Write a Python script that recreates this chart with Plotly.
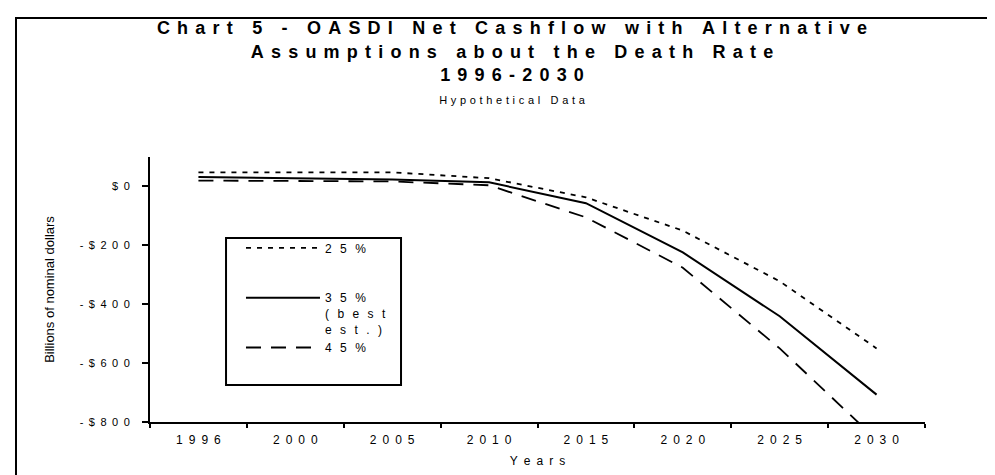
import plotly.graph_objects as go

# OASDI net cashflow, billions of nominal dollars
years = ["1996", "2000", "2005", "2010", "2015", "2020", "2025", "2030"]
rate_25 = [48, 48, 48, 28, -37, -150, -322, -550]
rate_35 = [32, 28, 24, 14, -57, -224, -441, -707]
rate_45 = [20, 18, 17, 4, -105, -276, -550, -860]

y_ticks = [0, -200, -400, -600, -800]
y_labels = ["$0", "-$200", "-$400", "-$600", "-$800"]
legend_names = ["25%", "35%<br>(best<br>est.)", "45%"]

title_lines = ["Chart 5 - OASDI Net Cashflow with Alternative",
               "Assumptions about the Death Rate",
               "1996-2030"]
subtitle = "Hypothetical Data"

FONT = "Liberation Sans, Arial, sans-serif"
EN = "\u2002"
THIN2 = "\u2009\u2009"


def spaced(text, sep=EN):
    # the original chart uses wide letter spacing
    return "<br>".join(sep.join(line) for line in text.split("<br>"))


title_text = "<br>".join("<b>" + spaced(t, THIN2) + "</b>" for t in title_lines)
title_text += "<br><span style='font-size:11px'>" + spaced(subtitle, "\u2004") + "</span>"

fig = go.Figure()
styles = [dict(dash="5px,6px", width=1.8),
          dict(dash="solid", width=2),
          dict(dash="15px,10px", width=1.8)]
pad_lines = [2, 0, 1]
for vals, name, st, pad in zip([rate_25, rate_35, rate_45], legend_names, styles, pad_lines):
    fig.add_trace(go.Scatter(
        x=years, y=vals, mode="lines",
        name=spaced(name, EN + "\u2009") + "<br>\u00a0" * pad,
        line=dict(color="black", **st),
        hoverinfo="skip",
    ))

fig.update_layout(
    width=995, height=475,
    margin=dict(l=142, r=78, t=149, b=61),
    paper_bgcolor="white", plot_bgcolor="white",
    font=dict(family=FONT, color="black"),
    title=dict(text=title_text, x=504 / 995, xanchor="center",
               y=0.945, yanchor="top",
               font=dict(size=18, family=FONT, color="black")),
    showlegend=True,
    legend=dict(x=0.1174, y=0.711, xanchor="left", yanchor="top",
                borderwidth=0, bgcolor="rgba(0,0,0,0)",
                font=dict(size=12), itemwidth=74, valign="top",
                tracegroupgap=0),
    xaxis=dict(type="category", range=[-0.5, 7.5], tickson="boundaries",
               tickvals=years, ticktext=[spaced(y) for y in years],
               ticks="outside", ticklen=4, tickwidth=2, tickcolor="black",
               showline=True, linewidth=2, linecolor="black",
               showgrid=False, zeroline=False, tickfont=dict(size=12),
               ticklabelstandoff=6,
               title=dict(text=spaced("Years"), font=dict(size=12), standoff=10)),
    yaxis=dict(range=[-800, 100], tickvals=y_ticks,
               ticktext=[spaced(t) for t in y_labels],
               ticks="outside", ticklen=6, tickwidth=2, tickcolor="black",
               showline=True, linewidth=2, linecolor="black",
               showgrid=False, zeroline=False, tickfont=dict(size=11),
               ticklabelstandoff=10,
               title=dict(text="Billions of nominal dollars",
                          font=dict(size=13, family="Liberation Sans Narrow, Liberation Sans"),
                          standoff=22)),
    shapes=[
        # page frame
        dict(type="rect", xref="paper", yref="paper",
             x0=-0.1729, x1=1.11, y0=-0.25, y1=1.5245,
             line=dict(color="black", width=2), fillcolor="rgba(0,0,0,0)"),
        # legend frame
        dict(type="rect", xref="paper", yref="paper", layer="below",
             x0=0.0981, x1=0.3239, y0=0.1396, y1=0.6943,
             line=dict(color="black", width=2), fillcolor="white"),
    ],
)

fig.write_html("out.html")
